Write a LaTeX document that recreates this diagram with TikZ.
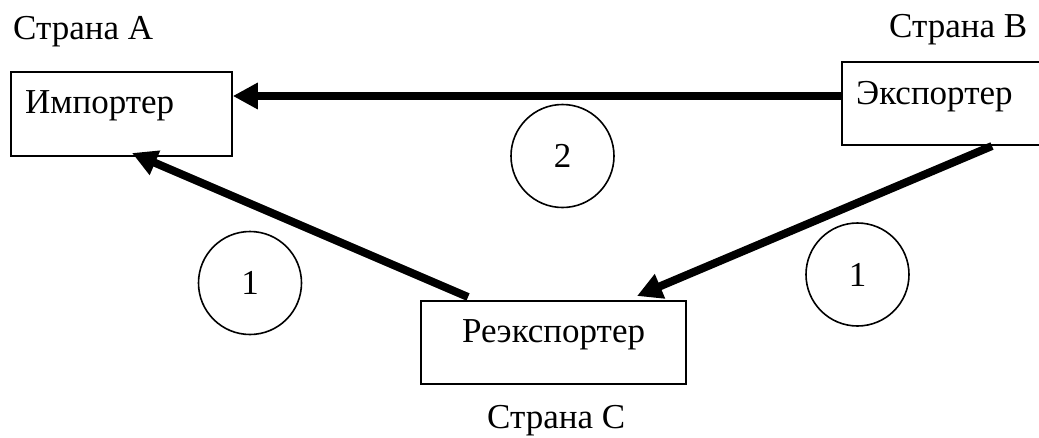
\documentclass[tikz,border=0pt]{standalone}
\usepackage{fontspec}
\setmainfont{Liberation Serif}
\usetikzlibrary{arrows.meta}
\begin{document}
\begin{tikzpicture}[x=1pt,y=-1pt,
  box/.style={draw,line width=1.6pt,rectangle,inner sep=0pt},
  lbl/.style={anchor=base west,inner sep=0pt,font=\fontsize{35}{40}\selectfont},
  num/.style={draw,circle,line width=1.6pt,minimum size=103pt,inner sep=0pt,font=\fontsize{35}{40}\selectfont},
  arr/.style={line width=8pt,-{Triangle[length=25pt,width=25pt]}},
  ]
\useasboundingbox (0,0) rectangle (1039,437);
\clip (0,0) rectangle (1039,437);
% boxes
\node[box,minimum width=221pt,minimum height=84pt] (impo) at (121.5,114) {};
\node[box,minimum width=210pt,minimum height=83pt] (expo) at (947,103.5) {};
\node[box,minimum width=265pt,minimum height=83pt] (reex) at (553.5,342.5) {};
% texts
\node[lbl] (tA) at (13,39) {Страна А};
\node[lbl] (tB) at (889,37) {Страна В};
\node[lbl] (tC) at (487,428) {Страна С};
\node[lbl] (timp) at (25,113) {Импортер};
\node[lbl] (texp) at (856,104) {Экспортер};
\node[lbl] (treex) at (462,342) {Реэкспортер};
% circles
\node[num] (c2) at (562.5,156) {2};
\node[num] (c1l) at (250,283) {1};
\node[num] (c1r) at (857.5,274.5) {1};
% connector anchor points
\coordinate (e1) at (expo.west |- 0,96);
\coordinate (i1) at (impo.east |- 0,96);
\coordinate (e2) at (992,146);
\coordinate (r2) at (637,296);
\coordinate (r3) at (468,297);
\coordinate (i3) at (132,153);
\draw[arr] (e1) -- (i1);
\draw[arr] (e2) -- (r2);
\draw[arr] (r3) -- (i3);
\end{tikzpicture}
\end{document}
